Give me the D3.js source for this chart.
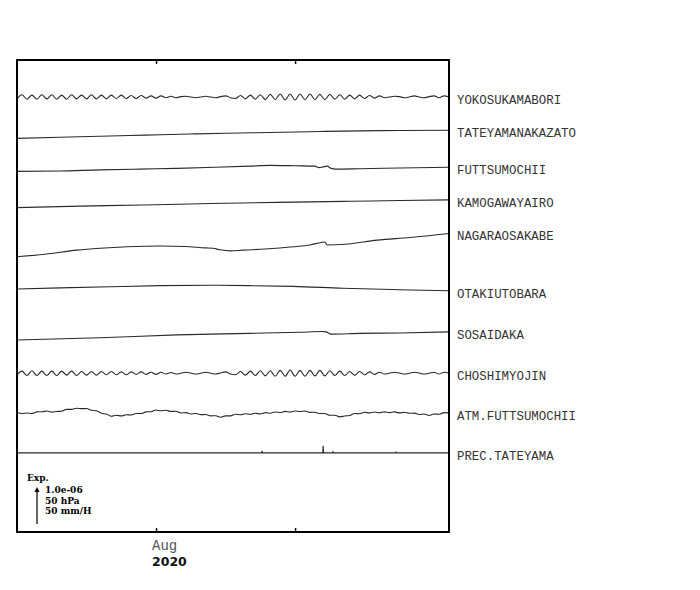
<!DOCTYPE html>
<html><head><meta charset="utf-8">
<script src="https://cdn.jsdelivr.net/npm/d3@7"></script>
<style>html,body{margin:0;padding:0;background:#fff;}</style>
</head><body>
<svg id="chart" width="700" height="590"></svg>
<script>
// ---------- DATA ----------
const stations = ["YOKOSUKAMABORI","TATEYAMANAKAZATO","FUTTSUMOCHII","KAMOGAWAYAIRO","NAGARAOSAKABE",
  "OTAKIUTOBARA","SOSAIDAKA","CHOSHIMYOJIN","ATM.FUTTSUMOCHII","PREC.TATEYAMA"];
// trace baselines (chart units, 1 unit = 1e-8 strain)
const traceOffsets = [1176, 1064, 975, 877, 744, 657, 519, 429, 322, 214];
const tickDates = ["2020-08-01", "2020-08-08"];
const tickLabels = ["Aug", ""];
const yearLabel = "2020";
const scaleTexts = ["1.0e-06", "50 hPa", "50 mm/H"];

// tidal-like records sampled every 6 hours from 2020-07-25 00:00 UTC (strain 1e-8)
const sampleStepDays = 0.25;
const yokosukaValues = [-5,6,-6,5,-6,6,-5,6,-6,5,-6,6,-5,5,-5,6,-5,5,-5,5,-4,5,-4,4,-4,4,-3,3,-3,3,-2,2,
  -2,1,2,0,-2,0,2,0,-2,1,3,-2,
  -4,4,-5,5,-6,6,-7,7,-7,8,-8,8,-8,8,-7,8,-7,7,-7,7,-6,6,-6,5,-5,5,-4,4,-3,3,
  -2,0,2,1,-2,0,3,0,-2,1,3,-2,3,0];
const choshiValues = [-4,6,-6,7,-6,6,-6,6,-6,6,-5,6,-6,5,-5,5,-5,5,-4,5,-4,4,-4,4,-3,4,-3,3,-3,3,-2,2,
  -2,0,3,1,-2,0,3,0,-2,1,4,-2,
  -4,5,-5,6,-6,7,-7,7,-8,8,-8,9,-8,8,-8,8,-7,8,-7,7,-6,6,-6,5,-5,5,-4,4,-3,3,
  -2,0,3,1,-2,0,3,1,-2,0,3,-2,3,1];
// atmospheric pressure deviation (hPa), same sampling
const atmValues = [0.5,-0.8,-0.1,-0.9,1.4,1.5,2.6,1.1,1.9,2.2,4.7,4.7,6.3,5.7,5.9,3.6,2.8,-0.5,-1.6,-4.6,
  -3.2,-4.1,-2.6,-2.8,-0.8,-0.9,1.4,1.6,3.9,2.8,3.5,2.0,2.2,-0.1,0.3,-1.4,-0.8,-2.4,-2.2,-4.1,
  -3.8,-5.8,-4.1,-4.1,-1.9,-2.6,-1.2,-2.0,-0.5,-1.4,0.3,-0.4,1.2,0.5,2.0,1.2,2.6,1.8,2.6,0.7,
  0.9,-0.9,-0.9,-3.2,-3.2,-5.4,-4.2,-3.6,-0.8,-1.1,0.8,0.0,1.2,0.1,1.4,0.4,1.4,0.0,0.8,-0.5,
  -0.3,-2.2,-1.6,-3.5,-1.6,-1.8,0.4,0.0];

// smooth strain records: days since 2020-07-25 and values (1e-8)
const tateyamaDays = [0,2.17,4.18,6.45,8.71,10.57,12.74,14.75,15.51,18.28,21.75];
const tateyamaValues = [0,3,6,9,12,14,16,18,19,21,22];
const futtsuDays = [0,2.17,4.18,6.19,8.06,9.97,11.73,12.74,14.0,15.0,15.21,15.41,15.61,15.81,16.06,17.27,19.28,21.75];
const futtsuValues = [0,1,4,6,8,11,14,16,15,14,10,12,14,8,6,7,9,11];
const kamogawaDays = [0,3.17,6.34,9.72,13.09,16.77,19.28,21.75];
const kamogawaValues = [0,4,7,11,14,17,19,21];
const nagaraDays = [0,1.41,3.02,4.18,5.54,7.2,8.46,9.47,9.87,10.22,10.73,11.38,12.49,13.9,14.75,15.51,15.61,16.52,18.13,19.79,21.75];
const nagaraValues = [0,7,18,23,27,29,28,24,23,19,16,18,21,27,32,40,32,34,45,52,63];
const otakiDays = [0,2.17,4.68,7.2,9.72,11.73,13.9,16.41,19.28,21.75];
const otakiValues = [0,3,6,9,10,9,7,2,-2,-5];
const sosaiDays = [0,4.18,8.06,11.73,14.25,15.36,15.56,15.81,17.27,19.28,21.75];
const sosaiValues = [0,6,14,18,21,23,22,16,18,19,22];
// precipitation events (mm/H)
const precDays = [12.34, 15.41, 15.91, 19.08];
const precValues = [2.7, 9.5, 1.4, 1.0];

// ---------- CHART ----------
const svg = d3.select("#chart");
const pL = 17, pR = 449, pT = 60, pB = 532;
const t0 = Date.UTC(2020, 6, 25);
const DAY = 86400000;
const x = d3.scaleUtc().domain([new Date(t0), new Date(t0 + 21.75 * DAY)]).range([pL, pR]);
const y = d3.scaleLinear().domain([0, 1276]).range([pB, pT]);
const perHPa = 2, perMM = 2; // 50 hPa or 50 mm/H equals 1e-6 strain (100 units)

const day2date = d => new Date(t0 + d * DAY);
function uniform(vals, k) { return vals.map((v, i) => ({d: i * sampleStepDays, v: v * k})); }
function pairs(ds, vs) { return ds.map((d, i) => ({d, v: vs[i]})); }
const precSeries = [{d: 0, v: 0}];
precDays.forEach((d, i) => { precSeries.push({d: d - 0.01, v: 0}, {d: d, v: precValues[i] * perMM}, {d: d + 0.03, v: 0}); });
precSeries.push({d: 21.75, v: 0});

const series = [
  uniform(yokosukaValues, 1),
  pairs(tateyamaDays, tateyamaValues),
  pairs(futtsuDays, futtsuValues),
  pairs(kamogawaDays, kamogawaValues),
  pairs(nagaraDays, nagaraValues),
  pairs(otakiDays, otakiValues),
  pairs(sosaiDays, sosaiValues),
  uniform(choshiValues, 1),
  uniform(atmValues, perHPa),
  precSeries
];

const g = svg.append("g");
series.forEach((s, k) => {
  const off = traceOffsets[k];
  const line = d3.line()
    .x(p => x(day2date(p.d)))
    .y(p => y(off + p.v))
    .curve(k === 9 ? d3.curveLinear : d3.curveMonotoneX);
  g.append("path").datum(s).attr("d", line)
    .attr("fill", "none").attr("stroke", "#2a2a2a").attr("stroke-width", 1.1);
  const last = s[s.length - 1];
  g.append("text").attr("x", 457).attr("y", y(off + last.v) + 7)
    .attr("font-family", "Liberation Mono, Courier New, monospace")
    .attr("font-size", 12.4).attr("fill", "#333").text(stations[k]);
});

// axes
const ticks = tickDates.map(s => new Date(s + "T00:00:00Z"));
svg.append("g").attr("transform", `translate(0,${pT})`)
  .call(d3.axisTop(x).tickValues(ticks).tickSize(-4).tickFormat(""))
  .call(a => a.select(".domain").remove())
  .call(a => a.selectAll("line").attr("stroke", "#000").attr("stroke-width", 1.5));
svg.append("g").attr("transform", `translate(0,${pB})`)
  .call(d3.axisBottom(x).tickValues(ticks).tickSize(-4).tickFormat(""))
  .call(a => a.select(".domain").remove())
  .call(a => a.selectAll("line").attr("stroke", "#000").attr("stroke-width", 1.5));
ticks.forEach((t, i) => {
  if (!tickLabels[i]) return;
  svg.append("text").attr("x", x(t) - 4).attr("y", pB + 18)
    .attr("font-family", "Liberation Mono, Courier New, monospace")
    .attr("font-size", 14).attr("fill", "#555").text(tickLabels[i]);
  if (i === 0) svg.append("text").attr("x", x(t) - 4).attr("y", pB + 34)
    .attr("font-family", "DejaVu Sans, sans-serif").attr("font-weight", "bold")
    .attr("font-size", 12.5).attr("fill", "#111").text(yearLabel);
});

// frame
svg.append("rect").attr("x", pL).attr("y", pT).attr("width", pR - pL).attr("height", pB - pT)
  .attr("fill", "none").attr("stroke", "#000").attr("stroke-width", 2);

// scale bar
const barLen = y(0) - y(100);
const ax = 37, ayb = 524;
svg.append("line").attr("x1", ax).attr("x2", ax).attr("y1", ayb).attr("y2", ayb - barLen + 3)
  .attr("stroke", "#000").attr("stroke-width", 1.2);
svg.append("path").attr("d", `M${ax - 2.5},${ayb - barLen + 5} L${ax},${ayb - barLen} L${ax + 2.5},${ayb - barLen + 5} Z`)
  .attr("fill", "#000");
svg.append("text").attr("x", 27).attr("y", 481).attr("font-family", "DejaVu Serif, serif")
  .attr("font-weight", "bold").attr("font-size", 9).text("Exp.");
scaleTexts.forEach((s, i) => {
  svg.append("text").attr("x", 45).attr("y", 493 + i * 10.5).attr("font-family", "DejaVu Serif, serif")
    .attr("font-weight", "bold").attr("font-size", 9).text(s);
});
</script>
</body></html>
